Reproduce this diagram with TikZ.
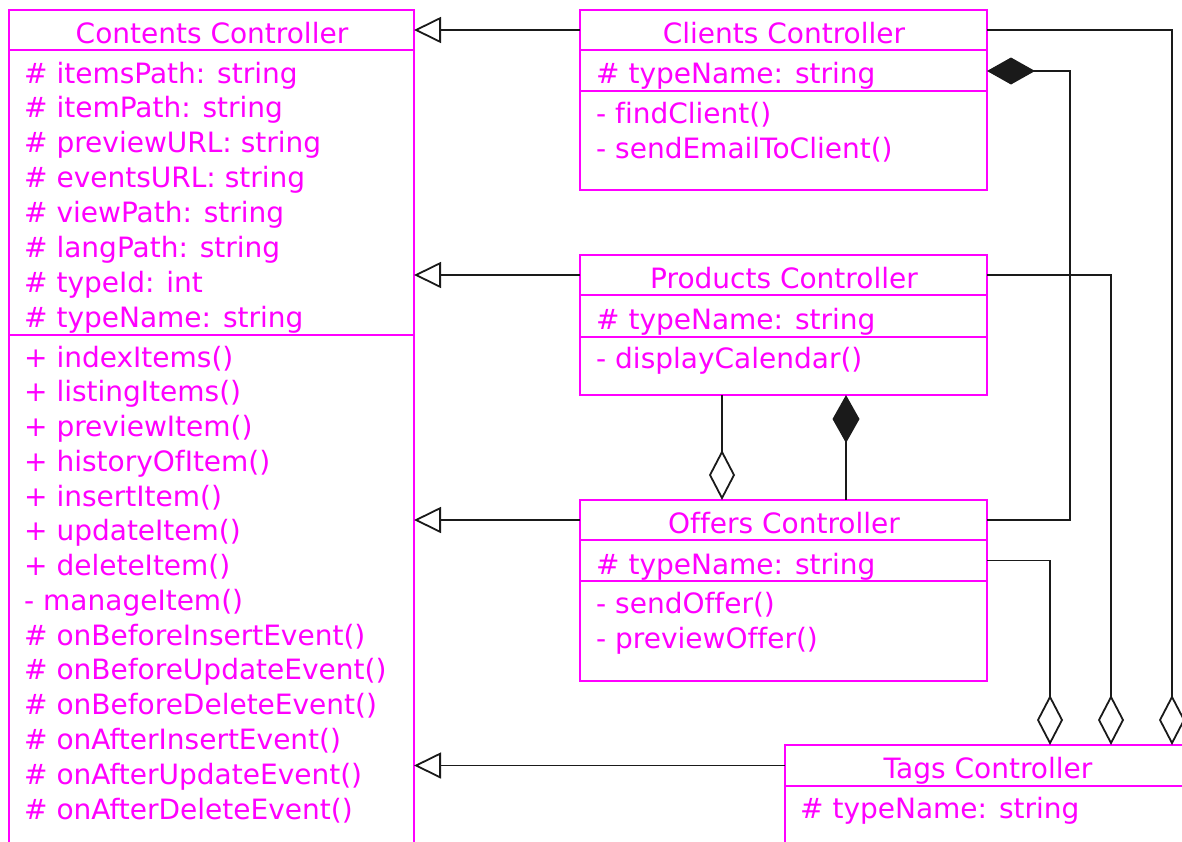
\documentclass[tikz,border=0pt]{standalone}
\usepackage{fontspec}
\setmainfont[Ligatures=NoCommon]{DejaVu Sans}
\usetikzlibrary{arrows.meta,calc}
\definecolor{mag}{HTML}{FF00FF}
\definecolor{ink}{HTML}{1A1A1A}
\begin{document}
\begin{tikzpicture}[x=1pt,y=-1pt,
  box/.style={draw=mag, line width=1.8pt, inner sep=0pt, outer sep=0pt, anchor=north west},
  txt/.style={text=mag, inner sep=0pt, anchor=base west, font=\fontsize{28}{34}\selectfont},
  ttl/.style={text=mag, inner sep=0pt, anchor=base, font=\fontsize{28}{34}\selectfont},
  conn/.style={draw=ink, line width=1.8pt},
  inh/.style={conn, -{Triangle[open, length=27pt, width=26pt]}},
  agg/.style={conn, -{Diamond[open, fill=white, length=50pt, width=26pt]}},
  comp/.style={conn, -{Diamond[length=48pt, width=27pt]}},
]
\useasboundingbox (0,0) rectangle (1182,841);
\clip (0,0) rectangle (1182,841);

% Contents Controller
\node[box, minimum width=405pt, minimum height=40pt] (contentsT) at (9,10) {};
\node[box, minimum width=405pt, minimum height=285pt] (contentsA) at (9,50) {};
\node[box, minimum width=405pt, minimum height=560pt] (contentsM) at (9,335) {};
\node[ttl] (contentsTitle) at (212,43) {Contents Controller};
\foreach \t [count=\i from 0] in {{\# itemsPath: string},{\# itemPath: string},{\# previewURL: string},{\# eventsURL: string},{\# viewPath: string},{\# langPath: string},{\# typeId: int},{\# typeName: string}}
  \node[txt] (ca\i) at (24,{83+34.86*\i}) {\t};
\foreach \t [count=\i from 0] in {{+ indexItems()},{+ listingItems()},{+ previewItem()},{+ historyOfItem()},{+ insertItem()},{+ updateItem()},{+ deleteItem()},{- manageItem()},{\# onBeforeInsertEvent()},{\# onBeforeUpdateEvent()},{\# onBeforeDeleteEvent()},{\# onAfterInsertEvent()},{\# onAfterUpdateEvent()},{\# onAfterDeleteEvent()}}
  \node[txt] (cm\i) at (24,{367+34.77*\i}) {\t};

% Clients Controller
\node[box, minimum width=407pt, minimum height=40pt] (clientsT) at (580,10) {};
\node[box, minimum width=407pt, minimum height=41pt] (clientsA) at (580,50) {};
\node[box, minimum width=407pt, minimum height=99pt] (clientsM) at (580,91) {};
\node[ttl] (clientsTitle) at (784,43) {Clients Controller};
\node[txt] (cla0) at (596,83) {\# typeName: string};
\node[txt] (clm0) at (596,123) {- findClient()};
\node[txt] (clm1) at (596,158) {- sendEmailToClient()};

% Products Controller
\node[box, minimum width=407pt, minimum height=40pt] (productsT) at (580,255) {};
\node[box, minimum width=407pt, minimum height=42pt] (productsA) at (580,295) {};
\node[box, minimum width=407pt, minimum height=58pt] (productsM) at (580,337) {};
\node[ttl] (productsTitle) at (784,288) {Products Controller};
\node[txt] (pa0) at (596,329) {\# typeName: string};
\node[txt] (pm0) at (596,368) {- displayCalendar()};

% Offers Controller
\node[box, minimum width=407pt, minimum height=40pt] (offersT) at (580,500) {};
\node[box, minimum width=407pt, minimum height=41pt] (offersA) at (580,540) {};
\node[box, minimum width=407pt, minimum height=100pt] (offersM) at (580,581) {};
\node[ttl] (offersTitle) at (784,533) {Offers Controller};
\node[txt] (oa0) at (596,574) {\# typeName: string};
\node[txt] (om0) at (596,613) {- sendOffer()};
\node[txt] (om1) at (596,648) {- previewOffer()};

% Tags Controller
\node[box, minimum width=405pt, minimum height=41pt] (tagsT) at (785,745) {};
\node[box, minimum width=405pt, minimum height=100pt] (tagsA) at (785,786) {};
\node[ttl] (tagsTitle) at (988,778) {Tags Controller};
\node[txt] (ta0) at (800,818) {\# typeName: string};

% coordinates
\coordinate (tg1) at (1050,745);
\coordinate (tg2) at (1111,745);
\coordinate (tg3) at (1172,745);
\coordinate (pb1) at (722,395);
\coordinate (pb2) at (846,395);
\coordinate (ot1) at (722,500);
\coordinate (ot2) at (846,500);
\coordinate (cx) at (1070,71);

% inheritance
\draw[inh] (clientsT.west) -- (clientsT.west -| contentsT.east);
\draw[inh] (productsT.west) -- (productsT.west -| contentsT.east);
\draw[inh] (offersT.west) -- (offersT.west -| contentsT.east);
\draw[inh] (tagsT.west) -- (tagsT.west -| contentsT.east);

% aggregations to Tags
\draw[agg] (clientsT.east) -| (tg3);
\draw[agg] (productsT.east) -| (tg2);
\draw[agg] (offersA.east) -| (tg1);

% composition Offers -> Clients
\draw[comp] (offersT.east) -| (cx) -- (cx -| clientsA.east);

% Products <-> Offers
\draw[agg] (pb1) -- (ot1);
\draw[comp] (ot2) -- (pb2);
\end{tikzpicture}
\end{document}
